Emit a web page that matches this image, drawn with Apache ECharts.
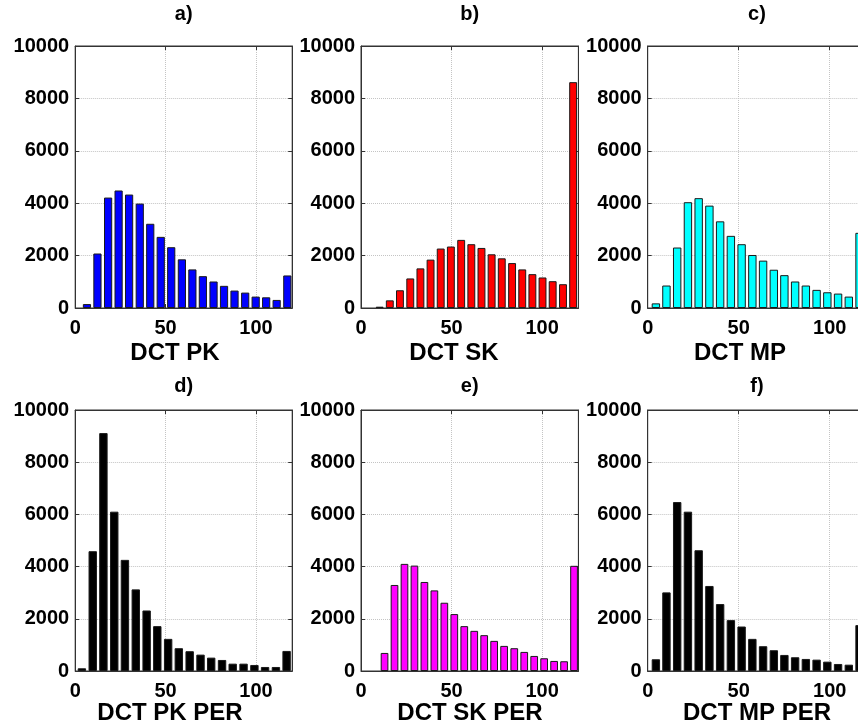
<!DOCTYPE html>
<html>
<head>
<meta charset="utf-8">
<script src="https://cdn.jsdelivr.net/npm/echarts@6/dist/echarts.min.js"></script>
<style>
  html, body { margin: 0; padding: 0; background: #fff; }
  #chart { width: 858px; height: 722px; }
</style>
</head>
<body>
<div id="chart"></div>
<script>
// Panel labels and x-axis names
const panelTitles = ['a)', 'b)', 'c)', 'd)', 'e)', 'f)'];
const axisNames = ['DCT PK', 'DCT SK', 'DCT MP', 'DCT PK PER', 'DCT SK PER', 'DCT MP PER'];

// Axis ticks
const xTicks = [0, 50, 100];
const xMax = 120;
const yTicks = [0, 2000, 4000, 6000, 8000, 10000];

// Histogram bin centres
const binsPK = [6.5, 12.3, 18.2, 24.0, 29.8, 35.7, 41.5, 47.3, 53.1, 59.0, 64.8, 70.6, 76.5, 82.3, 88.1, 94.0, 99.8, 105.6, 111.4, 117.3];
const binsSK = [10.3, 15.9, 21.5, 27.2, 32.8, 38.4, 44.0, 49.6, 55.3, 60.9, 66.5, 72.1, 77.7, 83.4, 89.0, 94.6, 100.2, 105.8, 111.5, 117.1];
const binsMP = [4.5, 10.3, 16.2, 22.1, 28.0, 33.9, 39.8, 45.7, 51.6, 57.5, 63.4, 69.3, 75.1, 81.0, 86.9, 92.8, 98.7, 104.6, 110.5, 116.4];
const binsPKPer = [3.7, 9.7, 15.6, 21.6, 27.5, 33.5, 39.5, 45.4, 51.4, 57.3, 63.3, 69.3, 75.2, 81.2, 87.1, 93.1, 99.1, 105.0, 111.0, 116.9];
const binsSKPer = [13.0, 18.5, 24.0, 29.5, 35.0, 40.5, 46.0, 51.5, 57.0, 62.5, 68.0, 73.5, 79.0, 84.6, 90.1, 95.6, 101.1, 106.6, 112.1, 117.6];
const binsMPPer = [4.5, 10.3, 16.2, 22.1, 28.0, 33.9, 39.8, 45.7, 51.6, 57.5, 63.4, 69.3, 75.1, 81.0, 86.9, 92.8, 98.7, 104.6, 110.5, 116.4];

// Histogram counts
const countsPK = [150, 2080, 4215, 4485, 4330, 3985, 3215, 2715, 2320, 1858, 1473, 1215, 1012, 846, 665, 588, 435, 408, 308, 1242];
const countsSK = [50, 292, 677, 1128, 1512, 1846, 2269, 2346, 2600, 2435, 2292, 2050, 1896, 1715, 1473, 1292, 1165, 1023, 908, 8620];
const countsMP = [177, 858, 2308, 4038, 4192, 3908, 3308, 2754, 2435, 2023, 1808, 1461, 1254, 1012, 858, 692, 600, 550, 435, 2869];
const countsPKPer = [104, 4590, 9115, 6104, 4258, 3127, 2319, 1719, 1231, 873, 758, 627, 512, 423, 281, 281, 231, 154, 154, 769];
const countsSKPer = [692, 3296, 4104, 4038, 3411, 3088, 2615, 2181, 1719, 1538, 1373, 1154, 962, 873, 731, 577, 488, 385, 373, 4030];
const countsMPPer = [450, 3012, 6473, 6104, 4627, 3258, 2565, 1950, 1704, 1231, 950, 796, 615, 527, 462, 435, 358, 269, 242, 1758];

const panelBins = [binsPK, binsSK, binsMP, binsPKPer, binsSKPer, binsMPPer];
const panelCounts = [countsPK, countsSK, countsMP, countsPKPer, countsSKPer, countsMPPer];
const barColors = ['#0000ff', '#ff0000', '#00ffff', '#000000', '#ff00ff', '#000000'];
const barWidths = [8.2, 7.9, 8.4, 8.4, 7.7, 8.4];

// Plot box placement (px); the third column runs past the right edge of the canvas
const colLeft = [75.2, 361, 647.7];
const colWidth = [217, 217.4, 218.4];
const rowTop = [46, 410];
const rowHeight = [262, 261];
const nameCenterX = [175, 454, 740, 170, 470, 757];
const nameCenterY = [354, 714];
const titleCenterY = [15, 387];

const FONT = 'Liberation Sans, Arial, Helvetica, sans-serif';
const AXIS_COLOR = '#333';
const plain = v => String(v);

const grids = [], xAxes = [], yAxes = [], series = [], titles = [];

for (let i = 0; i < 6; i++) {
  const col = i % 3, row = Math.floor(i / 3);
  grids.push({
    left: colLeft[col], top: rowTop[row], width: colWidth[col], height: rowHeight[row],
    outerBoundsMode: 'none', containLabel: false,
    show: true, borderColor: AXIS_COLOR, borderWidth: 1, backgroundColor: '#fff'
  });
  const tickStyle = { inside: true, length: 4, lineStyle: { color: AXIS_COLOR } };
  const lineStyle = { show: true, onZero: false, lineStyle: { color: AXIS_COLOR, width: 1 } };
  // bottom x axis with labels and grid lines
  xAxes.push({
    type: 'value', gridIndex: i, position: 'bottom',
    min: xTicks[0], max: xMax, interval: xTicks[1] - xTicks[0],
    axisLine: lineStyle, axisTick: tickStyle,
    axisLabel: { color: '#000', fontSize: 20, fontWeight: 'bold', fontFamily: FONT, margin: 10, showMaxLabel: false, formatter: plain },
    splitLine: { show: true, lineStyle: { type: 'dotted', color: '#c4c4c4', width: 1 } }
  });
  // top x axis: ticks only
  xAxes.push({
    type: 'value', gridIndex: i, position: 'top',
    min: xTicks[0], max: xMax, interval: xTicks[1] - xTicks[0],
    axisLine: lineStyle, axisTick: tickStyle,
    axisLabel: { show: false }, splitLine: { show: false }
  });
  // left y axis with labels
  yAxes.push({
    type: 'value', gridIndex: i, position: 'left',
    min: yTicks[0], max: yTicks[yTicks.length - 1], interval: yTicks[1] - yTicks[0],
    axisLine: lineStyle, axisTick: tickStyle,
    axisLabel: { color: '#000', fontSize: 20, fontWeight: 'bold', fontFamily: FONT, margin: 6, formatter: plain },
    splitLine: { show: true, lineStyle: { type: 'dotted', color: '#c4c4c4', width: 1 } }
  });
  // right y axis: ticks only
  yAxes.push({
    type: 'value', gridIndex: i, position: 'right',
    min: yTicks[0], max: yTicks[yTicks.length - 1], interval: yTicks[1] - yTicks[0],
    axisLine: lineStyle, axisTick: tickStyle,
    axisLabel: { show: false }, splitLine: { show: false }
  });
  series.push({
    type: 'bar',
    xAxisIndex: i * 2, yAxisIndex: i * 2,
    data: panelBins[i].map((b, k) => [b, panelCounts[i][k]]),
    barWidth: barWidths[i],
    clip: true,
    itemStyle: { color: barColors[i], borderColor: '#1a1a1a', borderWidth: 1 },
    silent: true, animation: false
  });
  const centerX = colLeft[col] + colWidth[col] / 2;
  titles.push({
    text: panelTitles[i], left: centerX, top: titleCenterY[row] - 11, textAlign: 'center',
    textStyle: { fontSize: 20, fontWeight: 'bold', fontFamily: FONT, color: '#000' }
  });
  titles.push({
    text: axisNames[i], left: nameCenterX[i], top: nameCenterY[row] - 13, textAlign: 'center',
    textStyle: { fontSize: 24, fontWeight: 'bold', fontFamily: FONT, color: '#000' }
  });
}

const chart = echarts.init(document.getElementById('chart'), null, { renderer: 'canvas' });
chart.setOption({
  animation: false,
  backgroundColor: '#fff',
  title: titles.map(t => Object.assign({ padding: 0 }, t)),
  grid: grids,
  xAxis: xAxes,
  yAxis: yAxes,
  series: series
});
</script>
</body>
</html>
